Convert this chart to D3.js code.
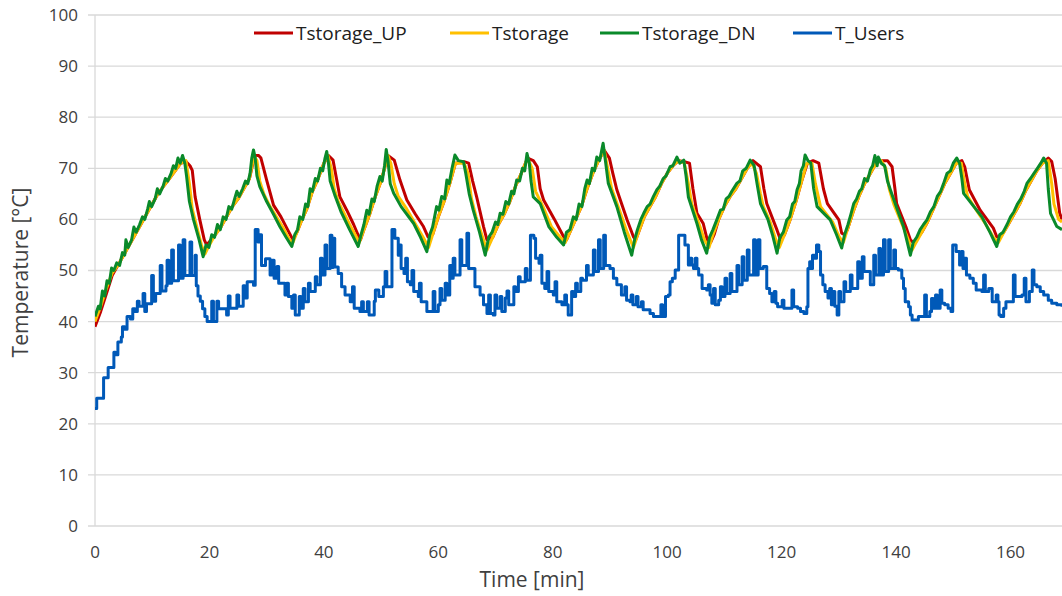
<!DOCTYPE html>
<html lang="en">
<head>
  <meta charset="UTF-8" />
  <title>Storage temperatures</title>
  <script src="https://d3js.org/d3.v7.min.js"></script>
  <style>
    body { margin: 0; background: #fff; }
    svg { display: block; }
    text { font-family: "Open Sans", "Noto Sans", sans-serif; fill: #404040; }
    .grid line { stroke: #d9d9d9; stroke-width: 1.3px; }
    .series { fill: none; stroke-width: 3px; stroke-linejoin: round; }
  </style>
</head>
<body>
  <svg width="1062" height="596"></svg>

  <script>
    const width = 1062;
    const height = 596;

    // y axis and x axis ticks
    const yTicks = [0, 10, 20, 30, 40, 50, 60, 70, 80, 90, 100];
    const xTicks = [0, 20, 40, 60, 80, 100, 120, 140, 160];

    const seriesNames = ["Tstorage_UP", "Tstorage", "Tstorage_DN", "T_Users"];
    const seriesColors = ["#c00000", "#ffc000", "#0a8a2a", "#0059b8"];

    // [time min, temperature °C]
    const tUp = [
      [0,39],[1,42],[2,45.5],[3,49],[4,51],[5,53],[6,55],[7,57],[8,59],[9,61],[10,63],[11,65],[12,66.5],[13,68],[14,69.5],[15,71],[15.9,71.3],[16.6,70.5],[17.0,69.6],[17.5,64.4],[18.3,60],[19.1,56],[19.5,55],
      [20.3,56],[21,57],[22,58.5],[23,60.5],[24,62.5],[25,64],[26,66],[27,68],[27.9,72.5],[28.6,72.5],[29.0,72],[30.0,67.7],[31.2,62.8],[32.5,60.5],[33.7,57.9],[34.6,56],
      [35.3,57.5],[36,59.5],[37,62],[38,65.5],[39,68],[40,71],[40.8,72.5],[41.6,71.6],[42.2,68],[42.8,64.4],[44.0,61.8],[45.2,59],[46.0,56.9],[46.4,56],
      [47,58],[48,61],[49,64.5],[50,67.5],[51.2,72.5],[52.3,71.6],[53.3,67.7],[54.5,63.8],[56,61],[57.4,58.6],[58.2,56.6],
      [59,57],[60,60.5],[61,63.5],[62,67],[63,71],[64.5,71.3],[65.3,71],[66.0,67.5],[66.7,64.4],[67.9,58.6],[68.5,56],
      [69.5,56.5],[70.5,59],[71.5,61],[72.5,63.5],[73.5,66.5],[74.5,69],[75.6,72],[76.6,71.5],[77.3,70.3],[77.8,66],[78.4,63.8],[80.3,60],[81.9,56.6],[82.4,56],
      [83,57.5],[84,60],[85,62.5],[86,66],[87,69],[88,71.5],[89,73.5],[89.9,72],[90.5,69],[91.2,65.8],[93.0,59.9],[94.1,56.6],[94.5,56],
      [95,57.5],[96,60.5],[97,62.5],[98,64.5],[99,67],[100,69],[101,70.5],[102,71.5],[103,71.3],[103.9,71],[104.5,66],[105.2,61.2],[106.3,59.2],[107.0,56],[107.6,55.5],
      [108.2,57],[109,60],[110,62.5],[111,64.5],[112,66],[113,68],[114,70],[115,71.5],[116.3,70.3],[116.9,66],[117.4,63.1],[119.2,57.9],[119.8,56],
      [120.5,57],[121.5,60],[122.5,63.5],[123.5,67.5],[124.5,71],[125.5,71.5],[126.5,71],[127.3,66],[128,63.1],[130,59.9],[130.5,57.3],[131,57],
      [131.5,58],[132.5,61.5],[133.5,64.5],[134.5,67],[135.5,69],[136.5,71],[137.4,71.5],[138.5,71.5],[139.3,70.3],[139.8,66],[140.1,63.1],[141.7,58.6],[142.5,56],[143.0,55.5],
      [143.5,56],[144.5,57.5],[145.5,59.5],[146.5,62],[147.5,64.5],[148.5,67],[149.5,69],[150.5,71],[151.5,71.5],[152,70.3],[152.8,65.8],[154.7,61.8],[157.0,58.3],[157.6,56.6],[158.2,56.5],
      [158.8,57.5],[159.6,59],[160.6,61],[161.6,63],[162.6,65.5],[163.6,67.5],[164.6,69.5],[165.6,71],[166.6,72],[167.2,71.3],[167.8,68],[168.6,61.2],[169,60]
    ];

    const tMid = [
      [0,40],[1,43],[2,46.5],[3,49.5],[4,51],[5,53],[6,55],[7,57],[8,59],[9,61],[10,63],[11,65],[12,66.5],[13,68],[14,69.5],[15,71],[15.9,71.5],[16.5,67],[17.0,62],[17.8,58.5],[18.6,55],[19.2,53.2],
      [20,55],[21,57],[22,58.5],[23,60.5],[24,62.5],[25,64],[26,66],[27,68],[27.8,72.5],[28.3,71.5],[28.8,67.5],[29.5,65],[30.6,62.5],[32.8,58.5],[34.0,56],[34.6,55.5],
      [35.3,57.5],[36,59.5],[37,62],[38,65.5],[39,68],[40,71],[40.7,72.5],[41.3,70],[41.8,66],[42.5,63.5],[44.5,59],[46.2,55.5],
      [47,58],[48,61],[49,64.5],[50,67.5],[51.2,72.5],[51.7,71],[52.3,67],[53,64.5],[54.5,62],[56.3,58.5],[57.6,56],[58.3,54.5],
      [59,57],[60,60.5],[61,63.5],[62,67],[63,71],[64.5,71],[65.2,69],[65.8,64],[66.6,60.5],[67.6,57],[68.5,54],
      [69.5,56.5],[70.5,59],[71.5,61],[72.5,63.5],[73.5,66.5],[74.5,69],[75.6,72],[76.4,70],[77.0,65.5],[78.3,62.5],[79.8,58.5],[81.3,56.5],[82.2,55.5],
      [83,57.5],[84,60],[85,62.5],[86,66],[87,69],[88,71.5],[89,73.5],[89.6,70],[90.3,66],[91.6,62],[93,57.5],[94.1,54.5],
      [95,57.5],[96,60.5],[97,62.5],[98,64.5],[99,67],[100,69],[101,70.5],[102,71.5],[103,71],[103.7,67],[104.3,63],[105.6,59],[106.5,56],[107.3,54.5],
      [108,57],[109,60],[110,62.5],[111,64.5],[112,66],[113,68],[114,70],[114.8,71],[115.6,69],[116.3,65],[116.8,62.5],[118,59.5],[119,56],[119.6,54.5],
      [120.5,57],[121.5,60],[122.5,63.5],[123.5,67.5],[124.4,71],[125.3,71],[125.9,67],[126.8,62.5],[128.9,59.5],[130.1,56.5],[130.8,55.5],
      [131.5,58],[132.5,61.5],[133.5,64.5],[134.5,67],[135.5,69],[136.5,71],[137.4,71.5],[138.2,70],[138.8,66],[139.6,63],[140.7,60],[141.8,57],[142.8,54],
      [143.5,55.5],[144.5,57.5],[145.5,59.5],[146.5,62],[147.5,64.5],[148.5,67],[149.5,69],[150.5,71],[151.4,71],[152.0,67],[152.5,64.5],[154.2,61.5],[155.7,59],[157,56.5],[157.9,55.5],
      [158.6,57],[159.6,59],[160.6,61],[161.6,63],[162.6,65.5],[163.6,67.5],[164.6,69.5],[165.6,71],[166.6,71.5],[167.2,67],[167.6,63],[168.4,60],[169,59.5]
    ];

    const tDn = [
      [0,41],[0.6,43],[0.9,42.5],[1.3,46],[1.7,45],[2.1,48],[2.5,47.5],[2.9,50.5],[3.3,50],[3.8,51.5],[4.3,51],[4.8,53.5],[5.2,53],[5.4,56],[5.8,54.5],[6.4,56],[6.8,58.5],[7.2,57.5],[7.8,59],[8.3,60.5],[8.7,60],[9.2,62],[9.5,63.5],[9.9,62.5],[10.5,64],[10.9,66],[11.3,65],[11.9,66.5],[12.3,68],[12.7,67.5],[13.3,69],[13.7,70.5],[14.1,70],[14.5,72],[14.9,71],[15.3,72.5],[15.7,71],
      [16.0,68.5],[16.5,63.5],[17.2,60],[18.2,56],[18.9,52.7],
      [19.4,55],[19.9,54.5],[20.4,57],[20.9,56.5],[21.4,59],[21.9,58],[22.4,60.5],[22.9,60],[23.4,62.5],[23.9,62],[24.4,64],[24.8,65.5],[25.2,64.5],[25.8,66],[26.3,67.5],[26.7,67],[27.1,69],[27.4,72],[27.7,73.6],[28.0,72],
      [28.3,68.5],[28.8,66.4],[30.0,63.5],[31.2,61],[32.3,58.6],[33.4,56.5],[34.4,54.7],
      [34.9,57],[35.4,58],[35.8,60.5],[36.3,60],[36.8,63],[37.2,62.5],[37.6,66],[38.0,65.5],[38.5,68],[38.9,67.5],[39.4,70],[39.8,69.5],[40.2,72],[40.5,73.3],[40.8,71],
      [41.1,67.5],[41.9,64.8],[43.0,61.5],[44.5,58],[46.0,54.7],
      [46.5,57],[47.0,59],[47.5,61.8],[47.9,61],[48.4,64],[48.8,63.5],[49.3,66.5],[49.8,68.4],[50.2,67.5],[50.6,70.5],[50.9,73.7],[51.2,71.5],
      [51.6,67],[52.2,65.1],[53.5,62.5],[55.7,59.2],[56.9,56.5],[58.0,53.7],
      [58.5,57],[59.0,58.5],[59.7,62.5],[60.1,61.8],[60.6,64.5],[61.1,64],[61.5,67.7],[61.9,67],[62.4,70],[62.9,72.6],[63.5,71.5],[64.4,71.3],
      [64.8,69],[65.4,65],[66.1,61.8],[67.2,57.5],[68.2,53],
      [68.8,56.5],[69.4,57.5],[70.0,59.5],[70.4,59],[70.8,61.2],[71.3,61],[71.8,63.5],[72.3,63],[72.8,65.5],[73.2,65],[73.7,67.7],[74.2,67.5],[74.7,70],[75.1,69.5],[75.5,72.9],[75.9,71],
      [76.2,67.5],[76.6,64.4],[77.8,63.1],[79.3,58.6],[80.7,56.5],[81.9,55],
      [82.4,57.5],[83.0,58],[83.6,60.5],[84.1,60],[84.6,63],[85.1,62.5],[85.6,66],[86.0,67.7],[86.4,67],[86.9,70],[87.3,69.5],[87.7,72.2],[88.2,71.5],[88.8,74.9],[89.2,71.5],
      [89.7,67.1],[91.2,62.5],[92.5,57.5],[93.8,53],
      [94.3,56],[94.8,58],[95.4,60],[95.9,61.2],[96.5,62.5],[97.0,63],[97.6,64.5],[98.2,65.8],[98.7,66.5],[99.3,68],[99.8,68.5],[100.5,70.3],[101.0,70.5],[101.7,72.2],[102.2,71],[102.9,71.6],
      [103.3,68.5],[103.7,64.4],[105.2,59.2],[106.0,56],[106.9,53.4],
      [107.4,56.5],[108.0,58],[108.7,60],[109.3,61.8],[109.8,62],[110.3,64],[110.8,64.5],[111.3,65.5],[112.2,67.1],[112.7,67.5],[113.2,69.5],[113.8,70],[114.5,71.6],[115.2,70.5],
      [115.7,67],[116.3,63.1],[117.6,60],[118.4,57],[119.2,53.4],
      [119.7,56.5],[120.3,57.5],[120.9,59.9],[121.4,60.5],[121.9,63],[122.3,63.5],[122.7,65.8],[123.1,67],[123.4,69.5],[123.8,70.5],[124.1,72.6],[124.6,71.5],[125.1,71],
      [125.6,66],[126.2,62.5],[128.5,59.9],[129.6,57],[130.5,54.4],
      [131.0,57],[131.6,59],[132.1,61],[132.6,63.1],[133.1,64],[133.6,65.5],[134.0,66],[134.5,68],[135.0,67.5],[135.5,69.7],[135.9,70.5],[136.3,72.5],[136.7,70.5],[136.9,72.2],[137.4,71],[138.0,70.5],
      [138.5,67.5],[139.0,65.8],[140.2,62],[141.3,58.6],[142.5,53],
      [143.0,55.5],[143.6,56.5],[144.2,58],[144.8,59],[145.4,59.9],[146.0,61.5],[146.6,62.5],[147.2,64.5],[147.8,65.5],[148.3,67],[148.9,69],[149.5,69.5],[150.0,71],[150.6,72],[151.1,71],
      [151.5,68],[151.8,65.1],[153.6,62.5],[155.0,60.5],[156.4,57.5],[157.6,54.7],
      [158.1,57],[158.7,57.5],[159.4,59],[160.0,60.5],[160.6,61.5],[161.2,63],[161.8,64],[162.4,65.5],[162.9,67.1],[163.5,68],[164.1,69],[164.7,70],[165.3,71],[165.8,72],[166.3,71],
      [166.6,66],[167.0,61.2],[168.1,58.6],[169,58]
    ];

    // stepped series: each value holds until the next time
    const tUsers = [
      [0,23],[0.3,25],[1.5,29],[2.3,31],[3.3,34],[3.6,33.5],[4.0,36],[4.6,37],[4.8,39],[5.2,38.5],[5.6,41],[6.2,40.5],[6.6,42.5],[7.0,42],[7.4,44],[7.7,43],[8.4,45.5],[8.7,42],[9.0,43.5],[9.9,49],[10.2,44],[10.6,45.5],[11.4,51],[11.7,46],[12.4,47],[12.6,52],[12.9,47.5],[13.4,54],[13.7,48],[14.0,48],[14.6,55],[14.9,48.5],[15.4,56],[15.7,49],[16.0,49],[16.6,55.6],[16.9,49],[17.5,53],[17.7,47],[18.0,45],[18.4,44],[18.8,42.5],[19.2,41],[19.6,40],[20.4,44],[20.7,40],[21.3,44],[21.6,42.5],[22.4,42.5],[23.0,41.3],[23.3,45],[23.6,42.6],[24.8,45.2],[25.1,43],[25.9,47],[26.2,44.6],[26.6,47.8],[27.7,47.1],
      [28.0,58],[28.5,55.6],[28.8,57],[29.1,51],[29.8,52.3],[30.6,49.1],[31.0,52],[31.3,48.5],[31.8,50.8],[32.1,47.5],[33.2,45.2],[33.5,47.5],[33.8,44.9],[34.4,42.6],[34.7,45.2],[35.0,41.3],[35.7,44.9],[36.0,42.6],[36.4,46.5],[36.7,43.9],[37.3,47.5],[37.6,45.9],[38.5,48.8],[38.8,47.2],[39.4,52.4],[39.7,49.1],[40.2,55],[40.5,50.4],[41.1,56.9],[41.4,50.6],[41.6,56.3],[41.9,50.7],[42.5,49.4],[43.1,46.8],[43.7,45.2],[44.6,43.9],[45.0,46.8],[45.3,42.6],[46.3,42],[46.6,43.9],[46.9,42],[47.6,43.9],[47.9,41.3],[48.8,44],[49.0,46.2],[49.6,44.9],[50.4,46.8],[50.7,49.8],[51.0,46.8],
      [51.9,58],[52.4,56.3],[53.0,53],[53.2,55],[53.5,50.4],[54.0,49.4],[54.3,52.4],[54.6,47.8],[55.1,47.2],[55.4,50],[55.7,45.9],[56.5,44.9],[56.7,47.5],[57.0,43.9],[58.0,42],[59.1,45.9],[59.4,42],[60.0,43.3],[60.3,46.5],[60.6,44.2],[61.2,47.5],[61.5,45.2],[62.0,51],[62.3,48.5],[62.6,52.4],[62.9,49.1],[63.8,56],[64.1,51],[65.0,57.3],[65.3,50.4],[66.4,46.8],[67.3,45.2],[67.9,43.3],[68.5,41.6],[68.8,45.2],[69.1,41.6],[69.6,41.3],[69.9,45.2],[70.2,42.6],[70.8,44.9],[71.1,42],[71.7,44.6],[72.0,46],[72.3,43.3],[73.2,46.8],[73.5,45.9],[74.0,48.8],[74.3,47.8],[75.2,50.4],[75.5,48.1],
      [76.1,56.9],[76.7,56.3],[77.0,52.4],[77.6,51.4],[77.8,53],[78.1,47.5],[78.6,46.5],[79.0,49.8],[79.3,45.9],[80.1,45.2],[80.4,47.8],[80.7,43.9],[81.6,43.3],[82.1,45.2],[82.4,43.3],[82.7,41.3],[83.3,45.9],[83.6,44.9],[84.0,47.5],[84.3,45.9],[84.9,48.5],[85.2,48.1],[85.9,51],[86.2,49.1],[87.1,54],[87.4,49.8],[88.0,56],[88.3,50.4],[88.9,56.9],[89.2,51],[90.0,50.4],[90.6,48.5],[91.2,47.2],[92.0,45.2],[92.6,46.8],[92.9,44.2],[93.5,43.9],[93.7,45.2],[94.0,43.3],[94.6,44.9],[94.9,42.9],[95.5,43.9],[95.8,42.3],[97.0,41.6],[97.6,41],[98.9,43.3],[99.2,41],[99.7,44.9],[100.2,45.2],[100.5,47.8],[100.9,48.5],[101.4,50.1],
      [102.0,56.9],[102.9,56.9],[103.1,55],[103.7,51.1],[104.0,52.4],[104.3,51.1],[104.6,50.4],[104.9,52.4],[105.2,50.4],[105.5,49.1],[106.1,46.5],[106.9,46.2],[107.2,47.2],[107.5,45.2],[107.8,43.6],[108.1,46.5],[108.4,43.3],[109.0,44.2],[109.3,46.8],[109.6,44.9],[110.1,48.5],[110.4,45.5],[111.0,49.4],[111.3,45.9],[112.2,51],[112.5,47.2],[113.1,52.7],[113.4,48.1],[114.0,54],[114.3,49.1],[115.1,56],[115.4,49.1],[115.9,56],[116.2,50.4],[116.8,50.8],[117.4,46.5],[117.9,45.5],[118.3,43.9],[118.7,45.9],[119.0,43.6],[119.3,42.9],[120.1,44.2],[120.4,42.6],[121.8,46.2],[122.1,42.9],[122.8,42.6],[123.3,42],[123.9,41.6],[124.4,42.9],
      [124.6,50.4],[124.9,51.7],[125.1,50.4],[125.4,53],[125.8,52.4],[126.1,55],[126.5,53.7],[126.8,49.1],[127.2,47.2],[127.6,45.9],[128.1,44.6],[128.4,46.5],[128.7,43.3],[129.0,45.9],[129.3,43],[129.7,41.3],[130.0,45.9],[130.3,43.9],[130.9,47.8],[131.2,45.9],[132.0,49.1],[132.3,46.5],[133.3,51.7],[133.6,48.5],[134.1,52.7],[134.4,49.8],[135.5,47.2],[136.1,53],[136.4,49.1],[137.0,54.3],[137.3,49.1],[137.8,56],[138.1,49.8],[138.7,56],[139.0,50.4],[139.6,54],[139.9,50.4],[140.4,50.1],[141.0,48.5],[141.3,46.5],[141.6,43.9],[142.2,42.9],[142.5,41.3],[142.8,40.3],[143.9,41],[144.7,41],[145.0,45.2],[145.3,41],[145.9,42],[146.2,44.5],[146.5,42.6],[146.9,45.2],[147.2,42.6],[147.7,46.2],[148.0,43.6],[148.5,43.3],[149.1,42.6],[149.6,42],
      [149.9,55],[150.5,53.7],[151.1,51.1],[151.4,53.7],[151.7,50.4],[152.0,52.4],[152.3,49.1],[152.9,48.5],[153.5,47.5],[154.0,46.2],[155.0,45.9],[155.3,49.1],[155.6,45.9],[156.2,46.5],[156.8,43.9],[157.5,45.2],[157.8,43.9],[158.0,41.3],[158.3,41],[158.8,42.6],[159.2,43.9],[160.5,49.1],[160.8,44.9],[162.0,45.2],[162.4,48.5],[162.7,43.9],[163.3,45.9],[163.8,50.1],[164.1,47.2],[164.6,46.8],[165.2,45.9],[165.8,45.2],[166.6,44.2],[167.2,43.6],[168.1,43.3],[169,42.9]
    ];

    const allSeries = [tUp, tMid, tDn, tUsers];

    const plot = { left: 95, right: 1062, top: 15, bottom: 526 };

    const x = d3.scaleLinear().domain([0, 169]).range([plot.left, plot.right]);
    const y = d3.scaleLinear().domain([0, 100]).range([plot.bottom, plot.top]);

    const svg = d3.select("svg");

    svg.append("clipPath").attr("id", "plot-clip")
      .append("rect")
      .attr("x", plot.left).attr("y", 0)
      .attr("width", plot.right - plot.left).attr("height", plot.bottom + 5);

    // horizontal grid with small stubs left of the axis
    const grid = svg.append("g").attr("class", "grid");
    grid.selectAll("line")
      .data(yTicks)
      .enter()
      .append("line")
      .attr("x1", plot.left - 7)
      .attr("x2", plot.right)
      .attr("y1", d => y(d))
      .attr("y2", d => y(d));

    svg.append("line")
      .attr("x1", plot.left).attr("x2", plot.left)
      .attr("y1", plot.top).attr("y2", plot.bottom)
      .attr("stroke", "#d9d9d9")
      .attr("stroke-width", 1.3);

    // y labels
    svg.selectAll(".ylab")
      .data(yTicks)
      .enter()
      .append("text")
      .attr("class", "ylab")
      .attr("x", plot.left - 17)
      .attr("y", d => y(d))
      .attr("dy", "0.35em")
      .attr("text-anchor", "end")
      .style("font-size", "17px")
      .text(d => d);

    // x labels
    svg.selectAll(".xlab")
      .data(xTicks)
      .enter()
      .append("text")
      .attr("class", "xlab")
      .attr("x", d => x(d))
      .attr("y", plot.bottom + 32)
      .attr("text-anchor", "middle")
      .style("font-size", "17px")
      .text(d => d);

    svg.append("text")
      .attr("x", 532)
      .attr("y", 587)
      .attr("text-anchor", "middle")
      .style("font-size", "21px")
      .text("Time [min]");

    svg.append("text")
      .attr("transform", "translate(28," + ((plot.top + plot.bottom) / 2 + 2) + ") rotate(-90)")
      .attr("text-anchor", "middle")
      .style("font-size", "21px")
      .text("Temperature [°C]");

    // series
    const line = d3.line().x(d => x(d[0])).y(d => y(d[1]));
    const stepLine = d3.line().x(d => x(d[0])).y(d => y(d[1])).curve(d3.curveStepAfter);

    const lines = svg.append("g").attr("clip-path", "url(#plot-clip)");
    allSeries.forEach((s, i) => {
      lines.append("path")
        .datum(s)
        .attr("class", "series")
        .attr("stroke", seriesColors[i])
        .attr("d", i === 3 ? stepLine : line);
    });

    // legend
    const legendX = [254, 450, 600, 793];
    const legend = svg.selectAll(".legend")
      .data(seriesNames)
      .enter()
      .append("g")
      .attr("class", "legend")
      .attr("transform", (d, i) => "translate(" + legendX[i] + ",33)");

    legend.append("line")
      .attr("x1", 0).attr("x2", 39)
      .attr("stroke", (d, i) => seriesColors[i])
      .attr("stroke-width", 3);

    legend.append("text")
      .attr("x", 42)
      .attr("dy", "0.35em")
      .style("font-size", "19px")
      .style("fill", "#202020")
      .text(d => d);
  </script>
</body>
</html>
